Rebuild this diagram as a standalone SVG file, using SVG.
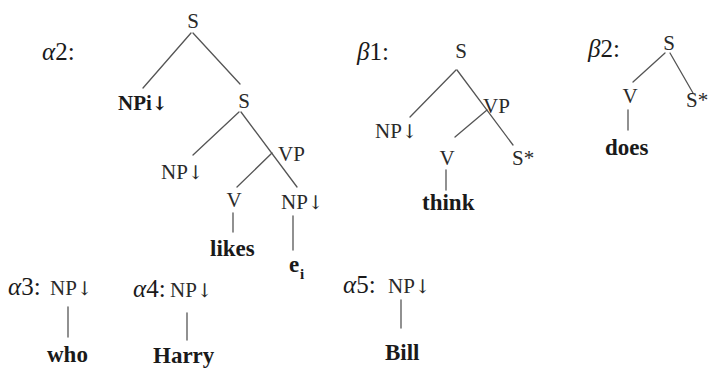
<svg xmlns="http://www.w3.org/2000/svg" width="708" height="368" viewBox="0 0 708 368">
  <style>
    text { font-family: "Liberation Serif", "Times New Roman", serif; fill: #1a1a1a; }
    .lbl { font-size: 25px; }
    .lbl .g { font-style: italic; }
    .nd { font-size: 21px; fill: #2a2a2a; }
    .lf { font-size: 23px; font-weight: bold; }
    .mid { text-anchor: middle; }
    .ar { font-family: "DejaVu Serif", serif; font-size: 19px; font-weight: normal; }
    .lf .ar { font-weight: bold; }
    .edges line { stroke: #555; stroke-width: 1.3; stroke-linecap: round; }
  </style>
  <rect width="708" height="368" fill="#fff"/>

  <!-- connectors -->
  <g class="edges" id="edges">
    <!-- alpha2 -->
    <line x1="191" y1="33" x2="143" y2="88"/>
    <line x1="193" y1="33" x2="240" y2="84"/>
    <line x1="239" y1="112" x2="193" y2="155"/>
    <line x1="241" y1="112" x2="297" y2="187"/>
    <line x1="272" y1="153" x2="237" y2="187"/>
    <line x1="233" y1="213" x2="233" y2="232"/>
    <line x1="293" y1="216" x2="293" y2="250"/>
    <!-- beta1 -->
    <line x1="456" y1="70" x2="410" y2="117"/>
    <line x1="457" y1="70" x2="513" y2="145"/>
    <line x1="487" y1="110" x2="455" y2="137"/>
    <line x1="446" y1="170" x2="446" y2="190"/>
    <!-- beta2 -->
    <line x1="665" y1="53" x2="633" y2="82"/>
    <line x1="670" y1="53" x2="693" y2="93"/>
    <line x1="628" y1="110" x2="628" y2="130"/>
    <!-- alpha3, alpha4, alpha5 -->
    <line x1="68" y1="307" x2="68" y2="337"/>
    <line x1="187" y1="313" x2="187" y2="340"/>
    <line x1="401" y1="300" x2="401" y2="328"/>
  </g>

  <!-- tree alpha2 -->
  <g id="a2-label"><text class="lbl" x="42" y="60"><tspan class="g">α</tspan>2:</text></g>
  <g id="a2-S"><text class="nd mid" x="193" y="28">S</text></g>
  <g id="a2-NPi"><text class="lf" style="font-size:21px" x="118" y="110">NPi<tspan class="ar">↓</tspan></text></g>
  <g id="a2-S2"><text class="nd mid" x="244" y="108">S</text></g>
  <g id="a2-NP"><text class="nd" x="161" y="179">NP<tspan class="ar">↓</tspan></text></g>
  <g id="a2-VP"><text class="nd" x="278" y="161">VP</text></g>
  <g id="a2-V"><text class="nd mid" x="234" y="207">V</text></g>
  <g id="a2-likes"><text class="lf" x="210" y="256">likes</text></g>
  <g id="a2-NP2"><text class="nd" x="281" y="209">NP<tspan class="ar">↓</tspan></text></g>
  <g id="a2-ei"><text class="lf" x="289" y="272">e<tspan x="300" y="279" style="font-size:15px">i</tspan></text></g>

  <!-- tree beta1 -->
  <g id="b1-label"><text class="lbl" x="357" y="60"><tspan class="g">β</tspan>1:</text></g>
  <g id="b1-S"><text class="nd mid" x="461" y="58">S</text></g>
  <g id="b1-NP"><text class="nd" x="375" y="138">NP<tspan class="ar">↓</tspan></text></g>
  <g id="b1-VP"><text class="nd" x="483" y="113">VP</text></g>
  <g id="b1-V"><text class="nd mid" x="447" y="165">V</text></g>
  <g id="b1-think"><text class="lf" x="422" y="210">think</text></g>
  <g id="b1-Sfoot"><text class="nd" x="512" y="165">S*</text></g>

  <!-- tree beta2 -->
  <g id="b2-label"><text class="lbl" x="588" y="57"><tspan class="g">β</tspan>2:</text></g>
  <g id="b2-S"><text class="nd mid" x="669" y="50">S</text></g>
  <g id="b2-V"><text class="nd mid" x="630" y="103">V</text></g>
  <g id="b2-Sfoot"><text class="nd" x="686" y="107">S*</text></g>
  <g id="b2-does"><text class="lf" x="605" y="155">does</text></g>

  <!-- trees alpha3, alpha4, alpha5 -->
  <g id="a3-label"><text class="lbl" x="8" y="295"><tspan class="g">α</tspan>3:</text></g>
  <g id="a3-NP"><text class="nd" x="50" y="295">NP<tspan class="ar">↓</tspan></text></g>
  <g id="a3-who"><text class="lf" x="47" y="362">who</text></g>

  <g id="a4-label"><text class="lbl" x="133" y="297"><tspan class="g">α</tspan>4:</text></g>
  <g id="a4-NP"><text class="nd" x="170" y="297">NP<tspan class="ar">↓</tspan></text></g>
  <g id="a4-Harry"><text class="lf" x="153" y="363">Harry</text></g>

  <g id="a5-label"><text class="lbl" x="343" y="293"><tspan class="g">α</tspan>5:</text></g>
  <g id="a5-NP"><text class="nd" x="388" y="293">NP<tspan class="ar">↓</tspan></text></g>
  <g id="a5-Bill"><text class="lf" x="385" y="360">Bill</text></g>
</svg>
